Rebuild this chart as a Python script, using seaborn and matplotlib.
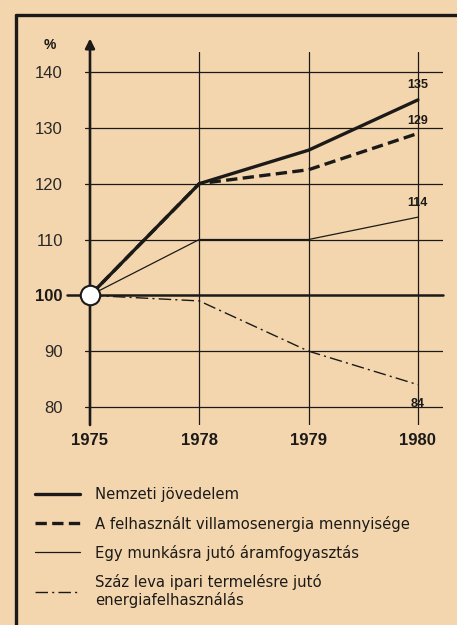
import matplotlib
matplotlib.use("Agg")
import matplotlib.pyplot as plt
from matplotlib.lines import Line2D
import pandas as pd
import seaborn as sns

years = ['1975', '1978', '1979', '1980']
nemzeti = [100, 120, 126, 135]
villamos = [100, 120, 122.5, 129]
munkas = [100, 110, 110, 114]
leva = [100, 99, 90, 84]
yticks = [80, 90, 100, 110, 120, 130, 140]

labels = ['Nemzeti jövedelem',
          'A felhasznált villamosenergia mennyisége',
          'Egy munkásra jutó áramfogyasztás',
          'Száz leva ipari termelésre jutó\nenergiafelhasználás']

paper = '#f3d6ae'
ink = '#1c1a18'

sns.set_style('white')
plt.rcParams['font.family'] = ['Liberation Sans', 'DejaVu Sans']

fig = plt.figure(figsize=(4.57, 6.25), dpi=100, facecolor=paper)
ax = fig.add_axes([85 / 457, 200 / 625, 358 / 457, 373 / 625])
ax.set_facecolor(paper)

df = pd.DataFrame({'year': years, 'nemzeti': nemzeti, 'villamos': villamos,
                   'munkas': munkas, 'leva': leva})

styles = {
    'nemzeti': dict(lw=2.4, ls='-'),
    'villamos': dict(lw=2.4, ls=(0, (3.4, 1.6))),
    'munkas': dict(lw=0.9, ls='-'),
    'leva': dict(lw=1.0, ls=(0, (9, 3, 1.5, 3))),
}
for col, st in styles.items():
    sns.lineplot(data=df, x='year', y=col, ax=ax, color=ink, legend=False,
                 zorder=4, **st)

# grid
for v in yticks:
    if v == 100:
        ax.axhline(v, xmin=-0.05, xmax=1, color=ink, lw=1.8, zorder=2, clip_on=False)
    else:
        ax.axhline(v, color=ink, lw=0.9, zorder=2)
for i in range(1, 4):
    ax.axvline(i, color=ink, lw=0.9, zorder=2)

ax.set_xlim(-0.0457, 3.2297)
ax.set_ylim(76.78, 143.58)
ax.annotate('', xy=(0, 146.0), xytext=(0, 76.78),
            arrowprops=dict(arrowstyle='-|>', lw=1.9, color=ink,
                            mutation_scale=14, shrinkA=0, shrinkB=0),
            annotation_clip=False, zorder=3)

ax.plot([years[0]], [nemzeti[0]], 'o', ms=14, mfc='white', mec=ink, mew=1.5,
        zorder=6, clip_on=False)

for s in ax.spines.values():
    s.set_visible(False)
ax.set_xlabel('')
ax.set_ylabel('')
ax.set_yticks(yticks)
ax.set_yticklabels([str(v) for v in yticks])
ax.tick_params(axis='y', length=0, pad=16, labelsize=12, labelcolor='#2a2826')
ax.tick_params(axis='x', length=0, pad=6, labelsize=12, labelcolor=ink)
for t in ax.get_xticklabels():
    t.set_fontweight('bold')
for t in ax.get_yticklabels():
    if t.get_text() == '100':
        t.set_fontweight('bold')
        t.set_color(ink)

# end labels
ends = [(nemzeti[-1], 11), (villamos[-1], 9), (munkas[-1], 10), (leva[-1], -14)]
for val, off in ends:
    ax.annotate(str(int(val)), xy=(3, val), xytext=(0, off), textcoords='offset points',
                ha='center', va='center', fontsize=9, fontweight='bold', color=ink)

fig.text(50 / 457, 1 - 45 / 625, '%', ha='center', va='center', fontsize=10,
         fontweight='bold', color=ink)

# frame
fig.add_artist(Line2D([16 / 457, 16 / 457], [0, 1 - 15 / 625], color=ink, lw=2.4))
fig.add_artist(Line2D([16 / 457, 1], [1 - 15 / 625, 1 - 15 / 625], color=ink, lw=2.4))

handles = [Line2D([], [], color=ink, **styles[k]) for k in styles]
leg = fig.legend(handles, labels, loc='upper left', bbox_to_anchor=(28 / 457, 1 - 480 / 625),
                 frameon=False, handlelength=3.0, handletextpad=1.0,
                 labelspacing=0.88, borderpad=0, labelcolor=ink,
                 prop={'family': 'DejaVu Sans', 'size': 10.7})

fig.savefig('out.png', dpi=100, facecolor=paper)
